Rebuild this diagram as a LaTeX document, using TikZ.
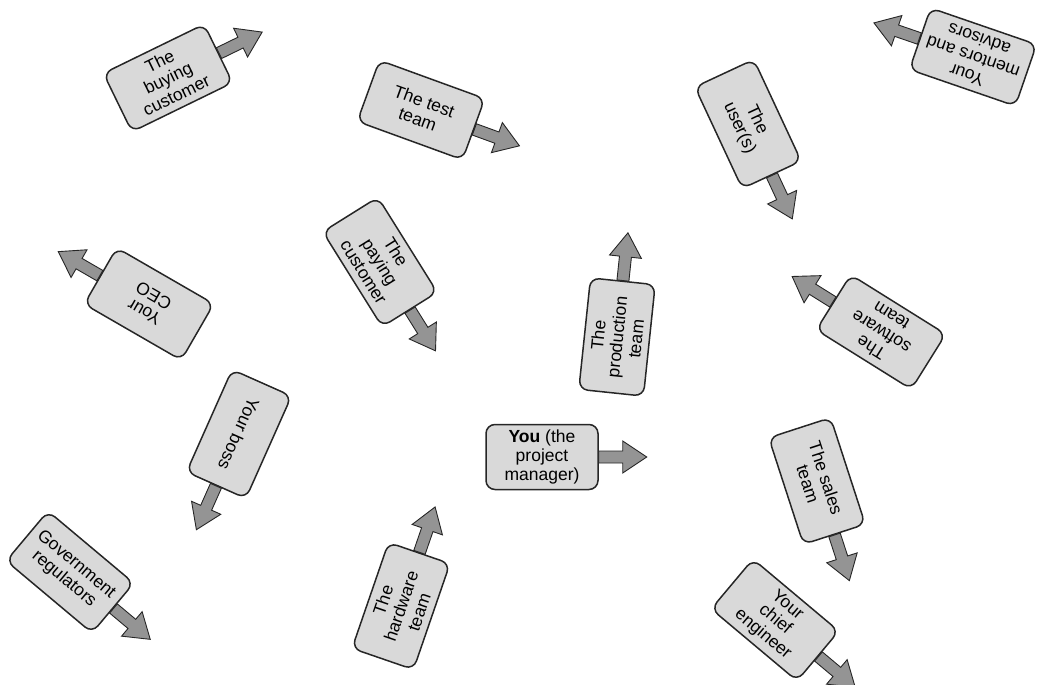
\documentclass[tikz,border=0pt]{standalone}
\usepackage{fontspec}
\setmainfont{Liberation Sans}
\definecolor{boxfill}{gray}{0.85}
\definecolor{arrfill}{gray}{0.58}
\tikzset{
  card/.style={draw=black!85, line width=1.5pt, fill=boxfill, rounded corners=9pt,
    minimum width=112pt, minimum height=65pt, align=center, inner sep=1pt,
    font=\fontsize{17.5}{19}\selectfont},
  blockarrow/.style={draw=black!85, line width=0.9pt, fill=arrfill, line join=miter}
}
\newcommand\cardarrow[2]{\draw[blockarrow, shift={(#1.east)}, rotate=#2]
  (0,-6) -- (24,-6) -- (24,-16) -- (48,0) -- (24,16) -- (24,6) -- (0,6) -- cycle;}
\begin{document}
\begin{tikzpicture}[x=1pt,y=1pt]
\useasboundingbox (0,0) rectangle (1039,-685);
\node[card, rotate=26]   (buy)  at (168,-78)  {The\\buying\\customer};
\node[card, rotate=-20]  (test) at (421,-110) {The test\\team};
\node[card, rotate=-65]  (user) at (748,-124) {The\\user(s)};
\node[card, rotate=161]  (ment) at (973,-57)  {Your\\mentors and\\advisors};
\node[card, rotate=150]  (ceo)  at (149,-304) {Your\\CEO};
\node[card, rotate=-58]  (pay)  at (380,-262) {The\\paying\\customer};
\node[card, rotate=84]   (prod) at (617,-337) {The\\production\\team};
\node[card, rotate=148]  (soft) at (881,-332) {The\\software\\team};
\node[card, rotate=-114] (boss) at (239,-434) {Your boss};
\node[card]              (you)  at (542,-457) {\textbf{You} (the\\project\\manager)};
\node[card, rotate=-72]  (sale) at (817,-481) {The sales\\team};
\node[card, rotate=-40]  (gov)  at (70,-572)  {Government\\regulators};
\node[card, rotate=71]   (hard) at (401,-606) {The\\hardware\\team};
\node[card, rotate=-40]  (chf)  at (775,-620) {Your\\chief\\engineer};
\cardarrow{buy}{26}
\cardarrow{test}{-20}
\cardarrow{user}{-65}
\cardarrow{ment}{161}
\cardarrow{ceo}{150}
\cardarrow{pay}{-58}
\cardarrow{prod}{84}
\cardarrow{soft}{148}
\cardarrow{boss}{-114}
\cardarrow{you}{0}
\cardarrow{sale}{-72}
\cardarrow{gov}{-40}
\cardarrow{hard}{71}
\cardarrow{chf}{-40}
\end{tikzpicture}
\end{document}
